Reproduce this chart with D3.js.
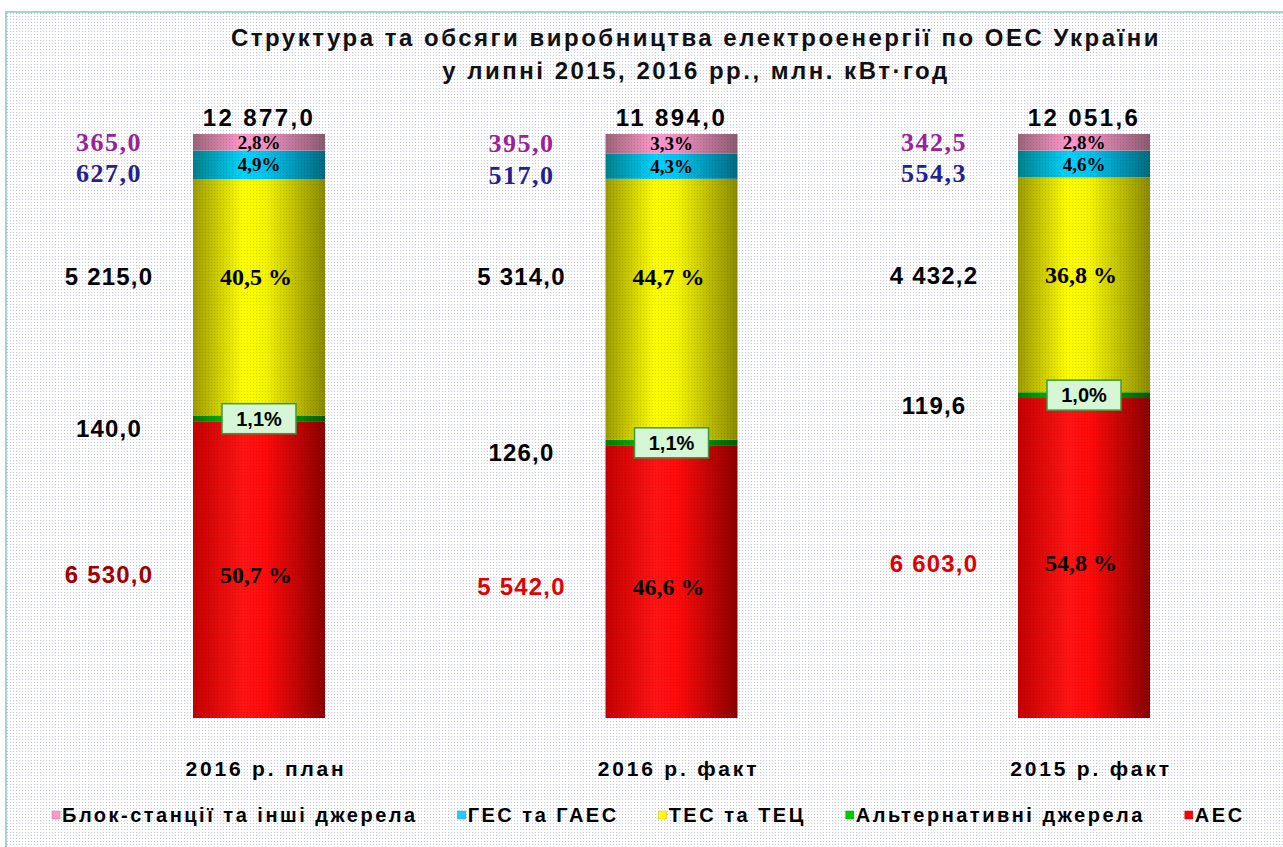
<!DOCTYPE html>
<html><head><meta charset="utf-8">
<script src="https://cdn.jsdelivr.net/npm/d3@7"></script>
<style>body{margin:0;background:#fff;overflow:hidden} svg{display:block}</style>
</head><body>
<script>
// ---- data ----
const categories = ["2016 р. план", "2016 р. факт", "2015 р. факт"];
const aes   = [6530.0, 5542.0, 6603.0];
const alt   = [140.0, 126.0, 119.6];
const tes   = [5215.0, 5314.0, 4432.2];
const ges   = [627.0, 517.0, 554.3];
const block = [365.0, 395.0, 342.5];
const totals = [12877.0, 11894.0, 12051.6];
const seriesNames = ["АЕС", "Альтернативні джерела", "ТЕС та ТЕЦ", "ГЕС та ГАЕС", "Блок-станції та інші джерела"];
const legendOrder = ["Блок-станції та інші джерела", "ГЕС та ГАЕС", "ТЕС та ТЕЦ", "Альтернативні джерела", "АЕС"];
const titleLines = ["Структура та обсяги виробництва електроенергії по ОЕС України", "у  липні 2015, 2016 рр., млн. кВт·год"];

// ---- styles ----
const W = 1283, H = 847;
const grads = {
  "АЕС": ["#c40000", "#ff1414", "#ff0a0a", "#8a0000"],
  "Альтернативні джерела": ["#007800", "#00d400", "#00c000", "#005c00"],
  "ТЕС та ТЕЦ": ["#9c9c00", "#ffff00", "#f4f400", "#8a8a00"],
  "ГЕС та ГАЕС": ["#00808c", "#00d4ff", "#00c4f0", "#006a80"],
  "Блок-станції та інші джерела": ["#9a6478", "#ff99cc", "#f090c0", "#8a5a70"]
};
const legendColors = {"АЕС":"#ff0000","Альтернативні джерела":"#00cc00","ТЕС та ТЕЦ":"#ffff00","ГЕС та ГАЕС":"#22ccff","Блок-станції та інші джерела":"#ff99cc"};
const valueLabelColors = {"АЕС":null,"Альтернативні джерела":"#000","ТЕС та ТЕЦ":"#000","ГЕС та ГАЕС":"#22228e","Блок-станції та інші джерела":"#992299"};
const aesLabelColors = ["#a00000", "#e00000", "#e00000"];
const SANS = "'Liberation Sans', Arial, sans-serif";
const SERIF = "'Liberation Serif', 'Times New Roman', serif";

const loc = d3.formatLocale({decimal: ",", thousands: "\u00a0", grouping: [3], currency: ["", ""]});
const fmtVal = loc.format(",.1f");
const fmtPct = loc.format(".1f");

const svg = d3.select("body").append("svg").attr("width", W).attr("height", H);
const defs = svg.append("defs");

// background dot pattern
const bgp = defs.append("pattern").attr("id", "bgdots").attr("width", 3).attr("height", 3).attr("patternUnits", "userSpaceOnUse");
bgp.append("rect").attr("width", 3).attr("height", 3).attr("fill", "#ffffff");
bgp.append("rect").attr("x", 1).attr("y", 1).attr("width", 1).attr("height", 1).attr("fill", "#c4c4f2");
// bar texture
const bp = defs.append("pattern").attr("id", "bardots").attr("width", 3).attr("height", 3).attr("patternUnits", "userSpaceOnUse");
bp.append("rect").attr("x", 1).attr("y", 1).attr("width", 1).attr("height", 1).attr("fill", "rgba(0,0,0,0.13)");

Object.entries(grads).forEach(([k, c], i) => {
  const g = defs.append("linearGradient").attr("id", "g" + i).attr("x1", 0).attr("x2", 1).attr("y1", 0).attr("y2", 0);
  [[0, c[0]], [0.38, c[1]], [0.55, c[2]], [1, c[3]]].forEach(([o, col]) =>
    g.append("stop").attr("offset", o).attr("stop-color", col));
});
const gradId = name => "url(#g" + Object.keys(grads).indexOf(name) + ")";

// frame
svg.append("rect").attr("x", 6).attr("y", 12).attr("width", W - 5).attr("height", H - 11)
  .attr("fill", "url(#bgdots)").attr("stroke", "#a6d2d2").attr("stroke-width", 2);

// title
svg.append("g").selectAll("text").data(titleLines).join("text")
  .attr("x", 696).attr("y", (d, i) => 46 + i * 33)
  .attr("text-anchor", "middle")
  .attr("font-family", SANS).attr("font-weight", "bold")
  .attr("font-size", 24).attr("letter-spacing", 2.5)
  .attr("fill", "#111").text(d => d);

// scales
const x = d3.scalePoint().domain(categories).range([259, 1084]);
const y = d3.scaleLinear().domain([0, 1]).range([718, 134]);
const barW = 132;

const seriesVals = [aes, alt, tes, ges, block];
const stackData = categories.map((c, i) => {
  let cum = 0;
  return seriesNames.map((s, j) => {
    const v = seriesVals[j][i];
    const share = v / totals[i];
    const seg = {cat: c, ci: i, name: s, si: j, v, share, y0: cum, y1: cum + share};
    cum += share;
    return seg;
  });
});
const segs = stackData.flat();

const bars = svg.append("g");
bars.selectAll("rect.seg").data(segs).join("rect").attr("class", "seg")
  .attr("x", d => x(d.cat) - barW / 2).attr("width", barW)
  .attr("y", d => y(d.y1)).attr("height", d => y(d.y0) - y(d.y1))
  .attr("fill", d => gradId(d.name));
bars.selectAll("rect.tex").data(segs).join("rect").attr("class", "tex")
  .attr("x", d => x(d.cat) - barW / 2).attr("width", barW)
  .attr("y", d => y(d.y1)).attr("height", d => y(d.y0) - y(d.y1))
  .attr("fill", "url(#bardots)");

// label y positions
function labelY(d, kind) {
  const top = y(d.y1), bot = y(d.y0), mid = (top + bot) / 2;
  if (d.name === "АЕС") return mid + 5;
  if (d.name === "ТЕС та ТЕЦ") return top + 98;
  if (d.name === "Альтернативні джерела") return kind === "val" ? mid + 10 : mid;
  if (d.name === "ГЕС та ГАЕС") return kind === "val" ? mid + 9 : mid;
  return mid;
}
const isSerifVal = d => d.name === "ГЕС та ГАЕС" || d.name === "Блок-станції та інші джерела";

// value labels (left)
svg.append("g").selectAll("text").data(segs).join("text")
  .attr("x", d => x(d.cat) - 150).attr("y", d => labelY(d, "val"))
  .attr("text-anchor", "middle").attr("dominant-baseline", "central")
  .attr("font-family", d => isSerifVal(d) ? SERIF : SANS)
  .attr("font-weight", "bold")
  .attr("font-size", d => isSerifVal(d) ? 26 : 24)
  .attr("letter-spacing", d => isSerifVal(d) ? 1.5 : 1.2)
  .attr("fill", d => d.name === "АЕС" ? aesLabelColors[d.ci] : valueLabelColors[d.name])
  .text(d => fmtVal(d.v));

// percent labels inside bars (except alt)
const big = d => d.name === "АЕС" || d.name === "ТЕС та ТЕЦ";
svg.append("g").selectAll("text").data(segs.filter(d => d.name !== "Альтернативні джерела")).join("text")
  .attr("x", d => x(d.cat) + (big(d) ? -3 : 0)).attr("y", d => labelY(d, "pct"))
  .attr("text-anchor", "middle").attr("dominant-baseline", "central")
  .attr("font-family", SERIF).attr("font-weight", "bold")
  .attr("font-size", d => big(d) ? 24 : 19)
  .attr("fill", "#000")
  .text(d => fmtPct(d.share * 100) + (big(d) ? " %" : "%"));

// alt percent boxes
const altSegs = segs.filter(d => d.name === "Альтернативні джерела");
const ab = svg.append("g").selectAll("g").data(altSegs).join("g")
  .attr("transform", d => `translate(${x(d.cat)},${labelY(d, "pct")})`);
ab.append("rect").attr("x", -37).attr("y", -15).attr("width", 74).attr("height", 30)
  .attr("fill", "#d6f7d6").attr("stroke", "#3a9a3a").attr("stroke-width", 1.5);
ab.append("text").attr("text-anchor", "middle").attr("dominant-baseline", "central")
  .attr("font-family", SANS).attr("font-weight", "bold")
  .attr("font-size", 20).attr("fill", "#000")
  .text(d => fmtPct(d.share * 100) + "%");

// totals
svg.append("g").selectAll("text").data(categories).join("text")
  .attr("x", d => x(d)).attr("y", y(1) - 17)
  .attr("text-anchor", "middle").attr("dominant-baseline", "central")
  .attr("font-family", SANS).attr("font-weight", "bold")
  .attr("font-size", 24).attr("letter-spacing", 2.4).attr("fill", "#000")
  .text((d, i) => fmtVal(totals[i]));

// category labels
svg.append("g").selectAll("text").data(categories).join("text")
  .attr("x", d => x(d) + 7).attr("y", y(0) + 50)
  .attr("text-anchor", "middle").attr("dominant-baseline", "central")
  .attr("font-family", SANS).attr("font-weight", "bold")
  .attr("font-size", 21).attr("letter-spacing", 2.8).attr("fill", "#000")
  .text(d => d);

// legend
const lg = svg.append("g");
let lx = 52;
legendOrder.forEach(name => {
  const g = lg.append("g").attr("transform", `translate(${lx},815)`);
  g.append("rect").attr("x", 0).attr("y", -4).attr("width", 8).attr("height", 8)
    .attr("fill", legendColors[name]).attr("stroke", d3.color(legendColors[name]).darker(0.8)).attr("stroke-width", 0.5);
  const t = g.append("text").attr("x", 10).attr("y", 0).attr("dominant-baseline", "central")
    .attr("font-family", SANS).attr("font-weight", "bold")
    .attr("font-size", 20).attr("letter-spacing", 2.5).attr("fill", "#000").text(name);
  lx += 10 + t.node().getComputedTextLength() + 40;
});
</script>
</body></html>
